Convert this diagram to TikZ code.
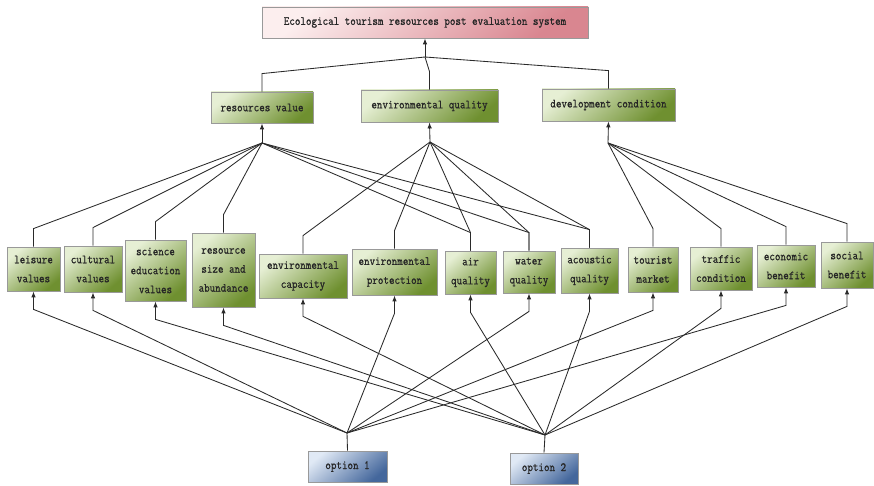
\documentclass[tikz,border=0pt]{standalone}
\usepackage{fontspec}
\newfontfamily\boxfont{Latin Modern Mono}[FakeStretch=0.86,FakeBold=0.8]
\usetikzlibrary{arrows.meta}
\definecolor{gL}{HTML}{E6EFD4}
\definecolor{gD}{HTML}{6F9030}
\definecolor{pL}{HTML}{FCEEEE}
\definecolor{pD}{HTML}{D98690}
\definecolor{bL}{HTML}{E0E9F5}
\definecolor{bD}{HTML}{44679C}
\definecolor{lnc}{HTML}{2A2A2A}
\tikzset{
  box/.style={draw=black!40, line width=0.8pt, inner sep=0pt, align=center,
    font=\fontsize{12.5}{19}\selectfont\boxfont, text=black!85},
  gbox/.style={box, top color=gL, bottom color=gD, shading angle=40},
  pbox/.style={box, top color=pL, bottom color=pD, shading angle=40},
  bbox/.style={box, top color=bL, bottom color=bD, shading angle=40},
  conn/.style={draw=lnc, line width=0.85pt},
  arr/.style={conn, -{Latex[length=6pt,width=4.5pt]}},
}
\begin{document}
\begin{tikzpicture}[x=1pt,y=-1pt]
\useasboundingbox (0,0) rectangle (874,486);
% top
\node[pbox, minimum width=326pt, minimum height=31pt] (top) at (425,22.5) {Ecological tourism resources post evaluation system};
% second level
\node[gbox, minimum width=102pt, minimum height=31pt] (rv) at (262,107.5) {resources value};
\node[gbox, minimum width=137pt, minimum height=32pt] (eq) at (429.5,106) {environmental quality};
\node[gbox, minimum width=133pt, minimum height=32pt] (dc) at (608.5,105) {development condition};
% third level
\node[gbox, minimum width=53pt, minimum height=44pt] (lv) at (33.5,269) {leisure\\values};
\node[gbox, minimum width=58pt, minimum height=46pt] (cv) at (93,269) {cultural\\values};
\node[gbox, minimum width=61pt, minimum height=61pt] (se) at (155.5,270.5) {science\\education\\values};
\node[gbox, minimum width=63pt, minimum height=74pt] (rs) at (223.5,270) {resource\\size and\\abundance};
\node[gbox, minimum width=88pt, minimum height=44pt] (ec) at (303,276) {environmental\\capacity};
\node[gbox, minimum width=85pt, minimum height=46pt] (ep) at (394.5,272) {environmental\\protection};
\node[gbox, minimum width=51pt, minimum height=43pt] (aq) at (470.5,272.5) {air\\quality};
\node[gbox, minimum width=52pt, minimum height=42pt] (wq) at (529,272) {water\\quality};
\node[gbox, minimum width=57pt, minimum height=45pt] (ac) at (589.5,270.5) {acoustic\\quality};
\node[gbox, minimum width=50pt, minimum height=45pt] (tm) at (653,269.5) {tourist\\market};
\node[gbox, minimum width=62pt, minimum height=43pt] (tc) at (721,268.5) {traffic\\condition};
\node[gbox, minimum width=58pt, minimum height=42pt] (eb) at (786,266) {economic\\benefit};
\node[gbox, minimum width=52pt, minimum height=46pt] (sb) at (847,265) {social\\benefit};
% options
\node[bbox, minimum width=79pt, minimum height=31pt] (o1) at (347.5,466.5) {option 1};
\node[bbox, minimum width=68pt, minimum height=31pt] (o2) at (544,468.5) {option 2};
% junctions
\coordinate (J0) at (425,57);
\coordinate (J1) at (262,143);
\coordinate (J2) at (430,142);
\coordinate (J3) at (608,143);
\coordinate (K1) at (347,433);
\coordinate (K2) at (545,435);
% top connectors
\draw[arr] (J0) -- (top.south);
\foreach \n in {rv,eq,dc} \draw[conn] (\n.north) -- ([yshift=18pt]\n.north) -- (J0);
% second level arrows
\draw[arr] (J1) -- (rv.south);
\draw[arr] (J2) -- (eq.south);
\draw[arr] (J3) -- (dc.south);
\foreach \n in {lv,cv,se,rs,aq,wq,ac} \draw[conn] (J1) -- ([yshift=18pt]\n.north) -- (\n.north);
\foreach \n in {ec,ep,aq,wq,ac} \draw[conn] (J2) -- ([yshift=18pt]\n.north) -- (\n.north);
\foreach \n in {tm,tc,eb,sb} \draw[conn] (J3) -- ([yshift=18pt]\n.north) -- (\n.north);
% options
\draw[conn] (o1.north) -- (K1);
\draw[conn] (o2.north) -- (K2);
\foreach \n in {lv,cv,ep,wq,tm,eb} \draw[arr] (K1) -- ([yshift=-18pt]\n.south) -- (\n.south);
\foreach \n in {se,rs,ec,aq,ac,tc,sb} \draw[arr] (K2) -- ([yshift=-18pt]\n.south) -- (\n.south);
\end{tikzpicture}
\end{document}
